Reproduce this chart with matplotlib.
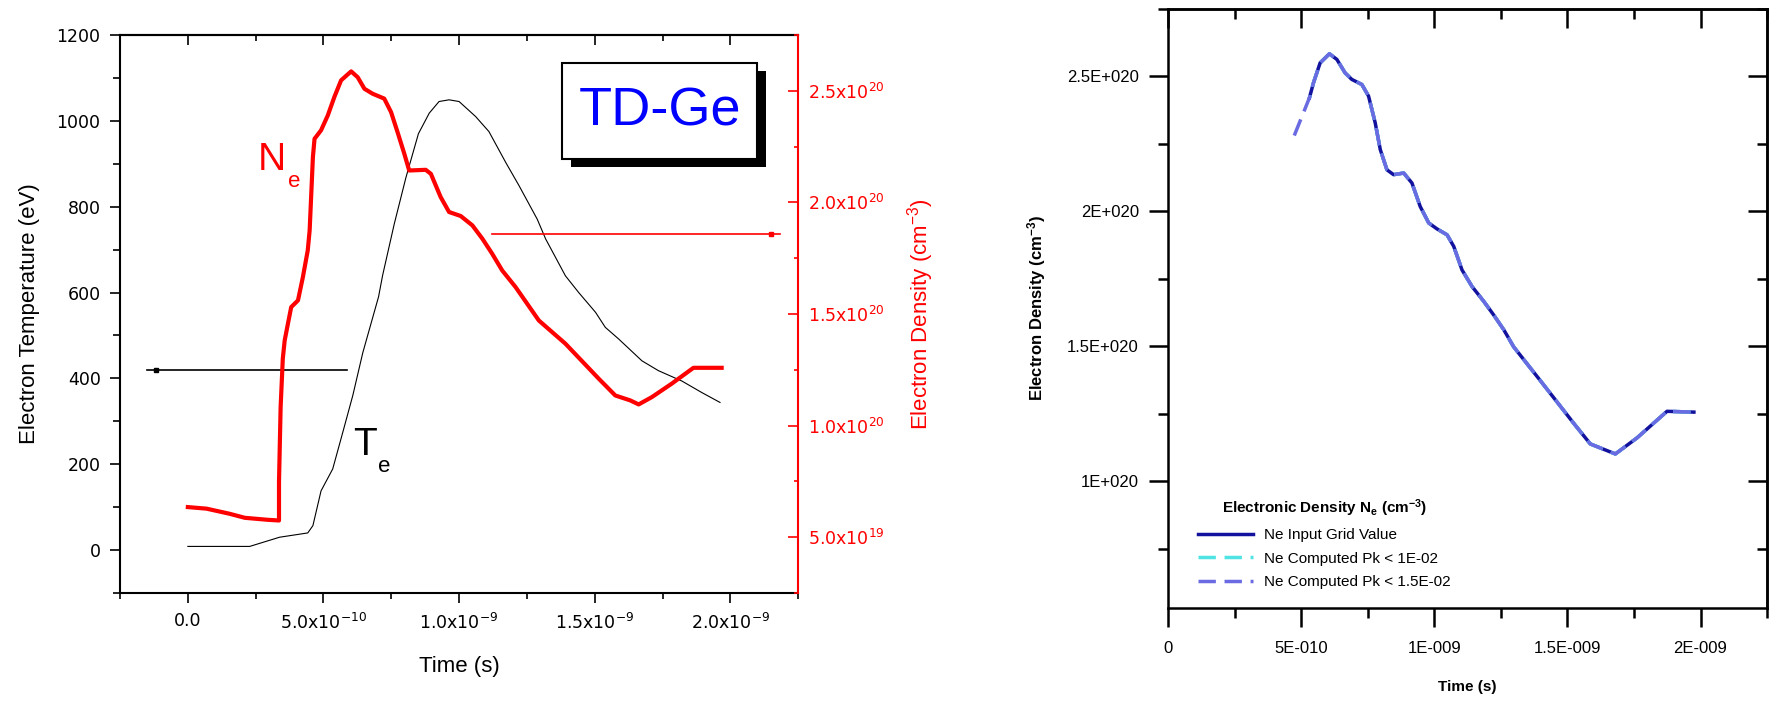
import numpy as np
import matplotlib.pyplot as plt
from matplotlib.patches import Rectangle
from matplotlib.lines import Line2D
from matplotlib.ticker import MultipleLocator

plt.rcParams['font.family'] = ['Liberation Sans', 'DejaVu Sans']
plt.rcParams['mathtext.fontset'] = 'custom'
plt.rcParams['mathtext.rm'] = 'Liberation Sans'
plt.rcParams['mathtext.it'] = 'Liberation Sans:italic'
plt.rcParams['mathtext.bf'] = 'Liberation Sans:bold'

# ---- data (time in ns, density in 1e20 cm^-3) ----
te_time = [0.0, 0.228, 0.338, 0.442, 0.461, 0.491, 0.534, 0.571, 0.608, 0.645, 0.703,
           0.718, 0.761, 0.804, 0.850, 0.890, 0.926, 0.963, 1.0, 1.061, 1.110, 1.172,
           1.221, 1.288, 1.319, 1.392, 1.441, 1.503, 1.539, 1.588, 1.674, 1.735, 1.821,
           1.895, 1.962]
te_ev = [8.6, 8.6, 30, 40, 57, 138, 189, 274, 360, 460, 590,
         640, 760, 868, 970, 1018, 1045, 1049, 1045, 1010, 975, 903,
         849, 771, 725, 639, 600, 554, 519, 492, 441, 418, 394,
         367, 344]

ne_time = [0.0, 0.069, 0.154, 0.21, 0.295, 0.336, 0.336, 0.342, 0.350, 0.357, 0.369,
           0.381, 0.406, 0.424, 0.442, 0.449, 0.455, 0.461, 0.467, 0.491, 0.516, 0.540,
           0.565, 0.602, 0.626, 0.651, 0.681, 0.724, 0.749, 0.773, 0.798, 0.816, 0.877,
           0.896, 0.932, 0.963, 1.006, 1.049, 1.086, 1.122, 1.159, 1.208, 1.294, 1.392,
           1.515, 1.576, 1.631, 1.662, 1.711, 1.784, 1.864, 1.968]
ne_dens = [0.635, 0.628, 0.605, 0.587, 0.578, 0.575, 0.747, 1.083, 1.30, 1.382, 1.457,
           1.531, 1.561, 1.665, 1.785, 1.875, 2.039, 2.203, 2.285, 2.323, 2.39, 2.472,
           2.547, 2.587, 2.561, 2.509, 2.487, 2.465, 2.405, 2.315, 2.218, 2.143, 2.146,
           2.128, 2.024, 1.957, 1.939, 1.897, 1.837, 1.77, 1.695, 1.621, 1.471, 1.367,
           1.210, 1.135, 1.113, 1.095, 1.128, 1.188, 1.259, 1.259]

fit_time = [0.474, 0.531, 0.546, 0.571, 0.606, 0.634, 0.665, 0.690, 0.728, 0.753, 0.778,
            0.797, 0.822, 0.847, 0.885, 0.916, 0.947, 0.979, 1.010, 1.048, 1.073, 1.104,
            1.142, 1.186, 1.223, 1.261, 1.298, 1.398, 1.524, 1.586, 1.680, 1.762, 1.874,
            1.975]
fit_dens = [2.281, 2.421, 2.476, 2.550, 2.584, 2.563, 2.513, 2.489, 2.470, 2.427, 2.328,
            2.229, 2.154, 2.136, 2.142, 2.105, 2.018, 1.957, 1.935, 1.913, 1.870, 1.783,
            1.721, 1.666, 1.616, 1.561, 1.498, 1.373, 1.214, 1.138, 1.101, 1.161, 1.259,
            1.256]

# axis pointers (arrows telling which curve goes with which axis)
te_arrow_time = [-0.15, 0.585]
te_arrow_val = 420
te_arrow_dot = -0.118
ne_arrow_time = [1.121, 2.184]
ne_arrow_val = 1.857
ne_arrow_dot = 2.15

# ticks / labels
temp_ticks = [0, 200, 400, 600, 800, 1000, 1200]
left_time_ticks = [0, 0.5, 1.0, 1.5, 2.0]
left_time_labels = ['0.0', r'5.0x10$^{-10}$', r'1.0x10$^{-9}$', r'1.5x10$^{-9}$', r'2.0x10$^{-9}$']
left_dens_ticks = [0.5, 1.0, 1.5, 2.0, 2.5]
left_dens_labels = [r'5.0x10$^{19}$', r'1.0x10$^{20}$', r'1.5x10$^{20}$', r'2.0x10$^{20}$', r'2.5x10$^{20}$']
right_time_ticks = [0, 0.5, 1.0, 1.5, 2.0]
right_time_labels = ['0', '5E-010', '1E-009', '1.5E-009', '2E-009']
right_dens_ticks = [1.0, 1.5, 2.0, 2.5]
right_dens_labels = ['1E+020', '1.5E+020', '2E+020', '2.5E+020']
legend_labels = ['Ne Input Grid Value', 'Ne Computed Pk < 1E-02', 'Ne Computed Pk < 1.5E-02']
fit_colors = ['#12129e', '#4fe3e3', '#6a6ae2']

NS = 1e-9
DEN = 1e20
DPI = 100

fig = plt.figure(figsize=(17.76, 7.07), dpi=DPI)

# ================= left panel =================
ax = fig.add_axes([0.0676, 0.1612, 0.3818, 0.7893])
ax.plot(np.array(te_time) * NS, te_ev, color='black', lw=0.8)
ax.plot(np.array(te_arrow_time) * NS, [te_arrow_val] * 2, color='black', lw=1.2)
ax.plot([te_arrow_dot * NS], [te_arrow_val], 's', color='black', ms=3.5)
ax.set_xlim(-0.25 * NS, 2.25 * NS)
ax.set_ylim(-100, 1200)
ax.set_xticks(np.array(left_time_ticks) * NS, left_time_labels)
ax.xaxis.set_minor_locator(MultipleLocator(0.25 * NS))
ax.set_yticks(temp_ticks)
ax.yaxis.set_minor_locator(MultipleLocator(100))
ax.tick_params(axis='both', which='major', direction='out', length=7, width=1.2,
               labelsize=12.5, pad=7)
ax.tick_params(axis='y', which='minor', direction='out', length=5, width=1.2)
ax.tick_params(axis='x', which='minor', direction='out', length=4, width=1.2)
for lab in ax.get_xticklabels() + ax.get_yticklabels():
    lab.set_fontfamily('DejaVu Sans')
    lab.set_math_fontfamily('dejavusans')
for s in ['left', 'top', 'bottom']:
    ax.spines[s].set_linewidth(1.5)
ax.spines['right'].set_visible(False)
ax.set_xlabel('Time (s)', fontsize=16, labelpad=17)
ax.set_ylabel('Electron Temperature (eV)', fontsize=16, labelpad=12)

top = ax.secondary_xaxis('top')
top.set_xticks(np.array(left_time_ticks) * NS, [''] * len(left_time_ticks))
top.xaxis.set_minor_locator(MultipleLocator(0.25 * NS))
top.tick_params(which='major', direction='in', length=7, width=1.2)
top.tick_params(which='minor', direction='in', length=4, width=1.2)
top.spines['top'].set_linewidth(1.5)

ax2 = ax.twinx()
ax2.plot(np.array(ne_time) * NS, np.array(ne_dens) * DEN, color='#ff0000', lw=3)
ax2.plot(np.array(ne_arrow_time) * NS, [ne_arrow_val * DEN] * 2, color='#ff0000', lw=1.2)
ax2.plot([ne_arrow_dot * NS], [ne_arrow_val * DEN], 's', color='#ff0000', ms=3.5)
ax2.set_ylim(0.25 * DEN, 2.75 * DEN)
ax2.set_yticks(np.array(left_dens_ticks) * DEN, left_dens_labels)
ax2.yaxis.set_minor_locator(MultipleLocator(0.25 * DEN))
ax2.tick_params(axis='y', which='major', direction='in', length=7, width=1.2,
                color='#ff0000', labelcolor='#ff0000', labelsize=12.5, pad=7)
ax2.tick_params(axis='y', which='minor', direction='in', length=3, width=1.2, color='#ff0000')
for lab in ax2.get_yticklabels():
    lab.set_fontfamily('DejaVu Sans')
    lab.set_math_fontfamily('dejavusans')
for s in ['left', 'top', 'bottom']:
    ax2.spines[s].set_visible(False)
ax2.spines['right'].set_color('#ff0000')
ax2.spines['right'].set_linewidth(1.5)
ax2.set_ylabel(r'Electron Density (cm$^{-3}$)', fontsize=16, color='#ff0000', labelpad=15)

# curve names
ax.text(0.2035, 0.7581, 'N', color='#ff0000', fontsize=28, transform=ax.transAxes,
        ha='left', va='baseline')
ax.text(0.2478, 0.7276, 'e', color='#ff0000', fontsize=16, transform=ax.transAxes,
        ha='left', va='baseline')
ax.text(0.3437, 0.2473, 'T', color='black', fontsize=28, transform=ax.transAxes,
        ha='left', va='baseline')
ax.text(0.3805, 0.2168, 'e', color='black', fontsize=16, transform=ax.transAxes,
        ha='left', va='baseline')

# TD-Ge box with shadow
ax.add_patch(Rectangle((0.665, 0.763), 0.288, 0.172, facecolor='black', edgecolor='none',
                       transform=ax.transAxes, zorder=5, clip_on=False))
ax.add_patch(Rectangle((0.652, 0.778), 0.2875, 0.172, facecolor='white', edgecolor='black',
                       lw=1.5, transform=ax.transAxes, zorder=6, clip_on=False))
ax.text(0.796, 0.837, 'TD-Ge', color='#0000ff', fontsize=39, transform=ax.transAxes,
        ha='center', va='baseline', zorder=7)

# ================= right panel =================
bx = fig.add_axes([0.6577, 0.1400, 0.3373, 0.8473])
bx.set_xlim(0, 2.25 * NS)
bx.set_ylim(0.53 * DEN, 2.75 * DEN)
ft = np.array(fit_time) * NS
fd = np.array(fit_dens) * DEN

# keep the two dashed curves in phase so the navy line shows through their common gaps
lw_fit = 2.5
dash = (5, 2.5)
p = bx.transData.transform(np.column_stack([ft[:2], fd[:2]]))
first_seg_pt = np.hypot(*(p[1] - p[0])) * 72 / DPI
bx.plot(ft[1:], fd[1:], color=fit_colors[0], lw=lw_fit)
bx.plot(ft[1:], fd[1:], color=fit_colors[1], lw=lw_fit, ls=(first_seg_pt / lw_fit, dash))
bx.plot(ft, fd, color=fit_colors[2], lw=lw_fit, ls=(0, dash))

bx.set_xticks(np.array(right_time_ticks) * NS, right_time_labels)
bx.xaxis.set_minor_locator(MultipleLocator(0.25 * NS))
bx.set_yticks(np.array(right_dens_ticks) * DEN, right_dens_labels)
bx.yaxis.set_minor_locator(MultipleLocator(0.25 * DEN))
bx.tick_params(which='major', direction='out', length=14, width=1.8, labelsize=12, pad=7)
bx.tick_params(axis='x', which='major', pad=10)
bx.tick_params(which='minor', direction='out', length=7, width=1.8)
for s in bx.spines.values():
    s.set_linewidth(1.8)

btop = bx.secondary_xaxis('top')
btop.set_xticks(np.array(right_time_ticks) * NS, [''] * len(right_time_ticks))
btop.xaxis.set_minor_locator(MultipleLocator(0.25 * NS))
btop.tick_params(which='major', direction='in', length=14, width=1.8)
btop.tick_params(which='minor', direction='in', length=7, width=1.8)
btop.spines['top'].set_linewidth(1.8)

bright = bx.secondary_yaxis('right')
bright.set_yticks(np.array(right_dens_ticks) * DEN, [''] * len(right_dens_ticks))
bright.yaxis.set_minor_locator(MultipleLocator(0.25 * DEN))
bright.tick_params(which='major', direction='in', length=14, width=1.8)
bright.tick_params(which='minor', direction='in', length=7, width=1.8)
bright.spines['right'].set_linewidth(1.8)

bx.set_xlabel('Time (s)', fontsize=11, fontweight='bold', labelpad=17)
bx.set_ylabel(r'Electron Density (cm$^{\mathbf{-3}}$)', fontsize=12, fontweight='bold',
              labelpad=14)

handles = [Line2D([], [], color=fit_colors[0], lw=lw_fit),
           Line2D([], [], color=fit_colors[1], lw=lw_fit, ls=(0, dash)),
           Line2D([], [], color=fit_colors[2], lw=lw_fit, ls=(0, dash))]
leg = bx.legend(handles, legend_labels, loc='upper left', bbox_to_anchor=(0.05, 0.185),
                frameon=False, fontsize=11,
                title=r'Electronic Density N$_{\mathbf{e}}$ (cm$^{\mathbf{-3}}$)',
                title_fontproperties={'weight': 'bold', 'size': 11},
                handlelength=3.6, handletextpad=0.7, labelspacing=0.62,
                borderpad=0, borderaxespad=0)

fig.savefig('out.png', dpi=DPI, facecolor='white')
